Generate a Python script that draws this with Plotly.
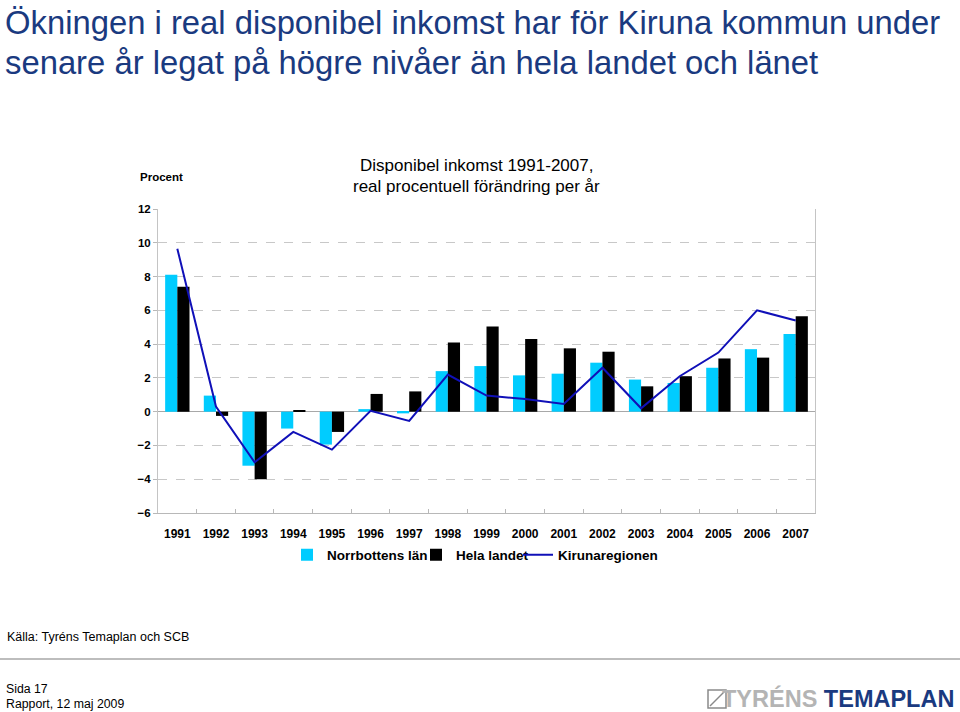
import plotly.graph_objects as go

years = [str(y) for y in range(1991, 2008)]
norrbotten = [8.1, 0.95, -3.2, -1.0, -1.95, 0.15, -0.1, 2.4, 2.7, 2.15, 2.25, 2.9, 1.9, 1.7, 2.6, 3.7, 4.6]
hela_landet = [7.4, -0.25, -4.0, 0.05, -1.2, 1.05, 1.2, 4.1, 5.05, 4.3, 3.75, 3.55, 1.5, 2.1, 3.15, 3.2, 5.65]
kiruna = [9.65, 0.3, -3.0, -1.2, -2.25, 0.05, -0.55, 2.2, 0.95, 0.75, 0.45, 2.6, 0.2, 2.1, 3.5, 6.0, 5.4]

W, H = 960, 712
L, R, T, B = 158, 815, 209, 513
pw, ph = R - L, B - T

def px(x):
    return (x - L) / pw

def py(y):
    return (B - y) / ph

FONT = "Liberation Sans, Arial, sans-serif"
NAVY = "#1a3a80"

fig = go.Figure()
fig.add_trace(go.Bar(x=years, y=norrbotten, name="Norrbottens län", marker_color="#00ccff",
                     marker_line_width=0, legend="legend"))
fig.add_trace(go.Bar(x=years, y=hela_landet, name="Hela landet", marker_color="#000000",
                     marker_line_width=0, legend="legend2"))
fig.add_trace(go.Scatter(x=years, y=kiruna, name="Kirunaregionen", mode="lines",
                         line=dict(color="#1010b8", width=2), legend="legend3"))

ann = []
ann.append(dict(text="Ökningen i real disponibel inkomst har för Kiruna kommun under",
                x=px(3), y=py(22), xanchor="left", yanchor="middle",
                font=dict(size=32.8, color=NAVY, family=FONT)))
ann.append(dict(text="senare år legat på högre nivåer än hela landet och länet",
                x=px(3), y=py(62), xanchor="left", yanchor="middle",
                font=dict(size=32.8, color=NAVY, family=FONT)))
ann.append(dict(text="Disponibel inkomst 1991-2007,", x=px(476), y=py(165), xanchor="center", yanchor="middle",
                font=dict(size=17, color="#000000", family=FONT)))
ann.append(dict(text="real procentuell förändring per år", x=px(476), y=py(187), xanchor="center", yanchor="middle",
                font=dict(size=17, color="#000000", family=FONT)))
ann.append(dict(text="<b>Procent</b>", x=px(138), y=py(177), xanchor="left", yanchor="middle",
                font=dict(size=11.5, color="#000000", family=FONT)))
ann.append(dict(text="Källa: Tyréns Temaplan och SCB", x=px(5), y=py(637), xanchor="left", yanchor="middle",
                font=dict(size=12.5, color="#000000", family=FONT)))
ann.append(dict(text="Sida 17", x=px(4), y=py(689), xanchor="left", yanchor="middle",
                font=dict(size=12.3, color="#000000", family=FONT)))
ann.append(dict(text="Rapport, 12 maj 2009", x=px(4), y=py(704), xanchor="left", yanchor="middle",
                font=dict(size=12.3, color="#000000", family=FONT)))
ann.append(dict(text="<span style='color:#b4b4b4'>TYRÉNS</span> <span style='color:#1a3a80'>TEMAPLAN</span>",
                x=px(956), y=py(698), xanchor="right", yanchor="middle",
                font=dict(size=23.5, color=NAVY, family=FONT, weight="bold")))
for a in ann:
    a.update(xref="paper", yref="paper", showarrow=False)

shapes = [
    dict(type="line", xref="paper", yref="paper", x0=px(0), x1=px(960), y0=py(659), y1=py(659),
         line=dict(color="#bdbdbd", width=2)),
    dict(type="rect", xref="paper", yref="paper", x0=px(708), x1=px(726), y0=py(708), y1=py(690),
         line=dict(color="#8a8a8a", width=1.5)),
    dict(type="line", xref="paper", yref="paper", x0=px(710), x1=px(724), y0=py(706), y1=py(692),
         line=dict(color="#8a8a8a", width=1.5)),
]

leg_common = dict(orientation="h", yanchor="middle", xanchor="left", y=py(555),
                  font=dict(size=13.5, family=FONT, weight="bold"), itemwidth=30,
                  bgcolor="rgba(0,0,0,0)", borderwidth=0)

fig.update_layout(
    width=W, height=H,
    margin=dict(l=L, r=W - R, t=T, b=H - B, pad=0),
    paper_bgcolor="white", plot_bgcolor="white",
    barmode="group", bargap=0.37, bargroupgap=0,
    font=dict(family=FONT, color="#000000"),
    showlegend=True,
    legend=dict(leg_common, x=px(287)),
    legend2=dict(leg_common, x=px(416)),
    legend3=dict(leg_common, x=px(518)),
    annotations=ann, shapes=shapes,
    xaxis=dict(type="category", showline=True, linecolor="#b8b8b8", linewidth=1,
               ticks="inside", ticklen=4, tickcolor="#b8b8b8", tickson="boundaries",
               ticklabelstandoff=10, showgrid=False,
               tickfont=dict(size=12, family=FONT, weight="bold")),
    yaxis=dict(range=[-6, 12], dtick=2, tick0=0, showline=True, mirror=True, linecolor="#c4c4c4",
               ticks="outside", ticklen=4, tickcolor="#b8b8b8",
               showgrid=True, gridcolor="#c8c8c8", griddash="dash", gridwidth=1,
               zeroline=True, zerolinecolor="#a8a8a8", zerolinewidth=1,
               tickfont=dict(size=11.5, family=FONT, weight="bold")),
)

fig.write_html("out.html")
